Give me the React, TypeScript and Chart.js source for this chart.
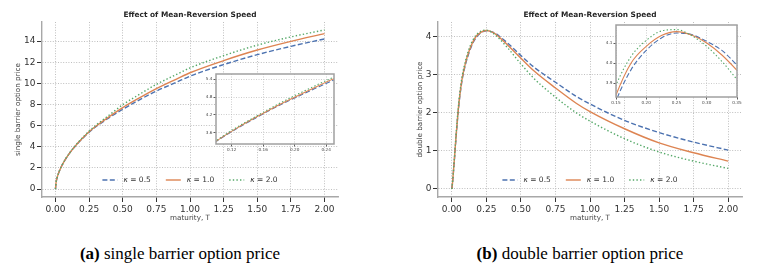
import React, { useEffect, useRef } from "react";
import { Chart, registerables } from "chart.js";

Chart.register(...registerables);

// ---------------- data ----------------
const TITLE = "Effect of Mean-Reversion Speed";
const SERIES_LABELS = ["κ = 0.5", "κ = 1.0", "κ = 2.0"];
const SERIES_COLORS = ["#4c72b0", "#dd8452", "#55a868"];

const T_SINGLE = [0, 0.005, 0.01, 0.02, 0.03, 0.04, 0.05, 0.075, 0.1, 0.125, 0.15, 0.175, 0.2, 0.225, 0.25, 0.3, 0.4, 0.5, 0.6, 0.75, 0.9, 1.0, 1.25, 1.5, 1.75, 2.0];
const SINGLE_K05 = [0, 0.66, 0.96, 1.39, 1.73, 2.02, 2.28, 2.83, 3.30, 3.72, 4.09, 4.45, 4.77, 5.08, 5.38, 5.89, 6.76, 7.55, 8.27, 9.27, 10.11, 10.68, 11.77, 12.71, 13.50, 14.20];
const SINGLE_K10 = [0, 0.66, 0.96, 1.39, 1.73, 2.02, 2.28, 2.83, 3.31, 3.73, 4.11, 4.47, 4.80, 5.12, 5.42, 5.94, 6.85, 7.70, 8.45, 9.50, 10.40, 11.00, 12.15, 13.15, 13.97, 14.70];
const SINGLE_K20 = [0, 0.66, 0.96, 1.39, 1.74, 2.03, 2.29, 2.85, 3.33, 3.76, 4.14, 4.51, 4.85, 5.17, 5.48, 6.03, 7.00, 7.98, 8.77, 9.90, 10.84, 11.46, 12.62, 13.61, 14.39, 15.05];

const T_DOUBLE = [0, 0.005, 0.01, 0.02, 0.03, 0.04, 0.05, 0.06, 0.075, 0.1, 0.125, 0.15, 0.175, 0.2, 0.225, 0.25, 0.275, 0.3, 0.325, 0.35, 0.4, 0.5, 0.6, 0.75, 0.9, 1.0, 1.25, 1.5, 1.75, 2.0];
const DOUBLE_K05 = [0, 0.15, 0.37, 0.83, 1.32, 1.77, 2.17, 2.49, 2.87, 3.28, 3.58, 3.81, 3.967, 4.063, 4.125, 4.150, 4.142, 4.108, 4.063, 3.99, 3.84, 3.50, 3.18, 2.80, 2.43, 2.23, 1.80, 1.48, 1.23, 1.02];
const DOUBLE_K10 = [0, 0.15, 0.38, 0.85, 1.35, 1.80, 2.20, 2.52, 2.90, 3.32, 3.62, 3.84, 4.000, 4.083, 4.137, 4.157, 4.140, 4.100, 4.040, 3.963, 3.79, 3.43, 3.08, 2.65, 2.25, 2.03, 1.58, 1.21, 0.95, 0.73];
const DOUBLE_K20 = [0, 0.16, 0.40, 0.88, 1.39, 1.85, 2.25, 2.58, 2.96, 3.37, 3.68, 3.89, 4.033, 4.113, 4.160, 4.167, 4.137, 4.083, 4.008, 3.917, 3.72, 3.28, 2.88, 2.41, 2.00, 1.78, 1.32, 0.97, 0.73, 0.54];

const MAIN_X_TICKS = [0, 0.25, 0.5, 0.75, 1.0, 1.25, 1.5, 1.75, 2.0];
const SINGLE_Y_TICKS = [0, 2, 4, 6, 8, 10, 12, 14];
const DOUBLE_Y_TICKS = [0, 1, 2, 3, 4];
const SINGLE_INSET_X_TICKS = [0.12, 0.16, 0.2, 0.24];
const SINGLE_INSET_Y_TICKS = [3.6, 4.2, 4.8, 5.4];
const DOUBLE_INSET_X_TICKS = [0.15, 0.2, 0.25, 0.3, 0.35];
const DOUBLE_INSET_Y_TICKS = [3.9, 4.0, 4.1];

// ---------------- helpers ----------------
const FONT = "DejaVu Sans";
const DASHES = [[5, 2.4], [], [1.4, 2.2]];
const ORDERS = [3, 2, 1];

function makeDatasets(t: number[], series: number[][], lw: number) {
  return series.map((vals, i) => ({
    label: SERIES_LABELS[i],
    data: t.map((x, j) => ({ x, y: vals[j] })),
    borderColor: SERIES_COLORS[i],
    backgroundColor: SERIES_COLORS[i],
    borderWidth: lw,
    borderDash: DASHES[i],
    pointRadius: 0,
    fill: false,
    cubicInterpolationMode: "monotone",
    order: ORDERS[i],
  }));
}

const titlePlugin = {
  id: "plotTitle",
  afterDraw(chart: any) {
    if (!chart.options.plugins.plotTitle?.show) return;
    const { ctx, chartArea } = chart;
    ctx.save();
    ctx.font = `bold 7.4px "${FONT}"`;
    ctx.fillStyle = "#262626";
    ctx.textAlign = "center";
    ctx.textBaseline = "middle";
    ctx.fillText(TITLE, (chartArea.left + chartArea.right) / 2, 15);
    ctx.restore();
  },
};

const legendPlugin = {
  id: "kLegend",
  afterDatasetsDraw(chart: any) {
    if (!chart.options.plugins.kLegend?.show) return;
    const { ctx, chartArea } = chart;
    const y = chartArea.bottom - 17;
    const fs = 7.5;
    const handle = 15;
    const gap = 6;
    const spacing = 15;
    ctx.save();
    const items = chart.data.datasets.map((ds: any) => {
      const label: string = ds.label;
      const head = label.slice(0, 1);
      const rest = label.slice(1);
      ctx.font = `italic ${fs}px "${FONT}"`;
      const wh = ctx.measureText(head).width;
      ctx.font = `${fs}px "${FONT}"`;
      const wr = ctx.measureText(rest).width;
      return { ds, head, rest, wh, wr };
    });
    const total = items.reduce((s: number, it: any) => s + handle + gap + it.wh + it.wr, 0) + spacing * (items.length - 1);
    let x = (chartArea.left + chartArea.right) / 2 - total / 2;
    for (const it of items) {
      ctx.beginPath();
      ctx.strokeStyle = it.ds.borderColor;
      ctx.lineWidth = it.ds.borderWidth;
      ctx.setLineDash(it.ds.borderDash || []);
      ctx.moveTo(x, y);
      ctx.lineTo(x + handle, y);
      ctx.stroke();
      ctx.setLineDash([]);
      x += handle + gap;
      ctx.fillStyle = "#333";
      ctx.textBaseline = "middle";
      ctx.textAlign = "left";
      ctx.font = `italic ${fs}px "${FONT}"`;
      ctx.fillText(it.head, x, y);
      x += it.wh;
      ctx.font = `${fs}px "${FONT}"`;
      ctx.fillText(it.rest, x, y);
      x += it.wr + spacing;
    }
    ctx.restore();
  },
};

const insetFramePlugin = {
  id: "insetFrame",
  beforeDraw(chart: any) {
    if (!chart.options.plugins.insetFrame?.show) return;
    const { ctx, chartArea } = chart;
    ctx.save();
    ctx.fillStyle = "#ffffff";
    ctx.fillRect(chartArea.left, chartArea.top, chartArea.right - chartArea.left, chartArea.bottom - chartArea.top);
    ctx.restore();
  },
  afterDraw(chart: any) {
    if (!chart.options.plugins.insetFrame?.show) return;
    const { ctx, chartArea } = chart;
    ctx.save();
    ctx.strokeStyle = "#a0a0a0";
    ctx.lineWidth = 1.5;
    ctx.strokeRect(chartArea.left, chartArea.top, chartArea.right - chartArea.left, chartArea.bottom - chartArea.top);
    ctx.restore();
  },
};

type AxisSpec = {
  min: number;
  max: number;
  ticks: number[];
  decimals: number;
  size: number; // width for y, height for x
  title?: string;
  titlePad?: number;
};

function makeConfig(opts: {
  t: number[];
  series: number[][];
  x: AxisSpec;
  y: AxisSpec;
  padRight: number;
  padTop: number;
  inset: boolean;
}) {
  const { inset } = opts;
  const tickFont = { family: FONT, size: inset ? 4.2 : 9 };
  const tickColor = inset ? "#444" : "#333";
  const grid = {
    color: "#b8b8b8",
    lineWidth: inset ? 0.7 : 0.9,
    drawTicks: true,
    tickLength: inset ? 2.5 : 5,
    tickWidth: inset ? 0.8 : 1,
    tickColor: "#333",
    tickBorderDash: [],
  };
  const border = {
    display: !inset,
    color: "#a8a8a8",
    width: 1.4,
    dash: inset ? [1, 1.5] : [1, 1.6],
  };
  const mkAxis = (spec: AxisSpec, isX: boolean) => ({
    type: "linear",
    min: spec.min,
    max: spec.max,
    afterBuildTicks: (s: any) => {
      s.ticks = spec.ticks.map((v) => ({ value: v }));
    },
    afterFit: (s: any) => {
      if (isX) s.height = spec.size;
      else s.width = spec.size;
    },
    ticks: {
      font: tickFont,
      color: tickColor,
      padding: inset ? 1 : isX ? 2 : 1.5,
      autoSkip: false,
      maxRotation: 0,
      minRotation: 0,
      callback: (v: any) => Number(v).toFixed(spec.decimals),
    },
    grid,
    border,
    title: spec.title
      ? {
          display: true,
          text: spec.title,
          color: "#444",
          font: { family: FONT, size: 7.2 },
          padding: isX ? { top: 0, bottom: spec.titlePad } : { top: spec.titlePad, bottom: 0 },
        }
      : { display: false },
  });

  return {
    type: "line",
    data: { datasets: makeDatasets(opts.t, opts.series, inset ? 1.1 : 1.4) },
    options: {
      animation: false,
      responsive: false,
      maintainAspectRatio: false,
      devicePixelRatio: 1,
      events: [],
      layout: { padding: { left: 0, top: opts.padTop, right: opts.padRight, bottom: 0 } },
      plugins: {
        legend: { display: false },
        tooltip: { enabled: false },
        title: { display: false },
        plotTitle: { show: !inset },
        kLegend: { show: !inset },
        insetFrame: { show: inset },
      },
      scales: {
        x: mkAxis(opts.x, true),
        y: mkAxis(opts.y, false),
      },
    },
    plugins: [titlePlugin, legendPlugin, insetFramePlugin],
  };
}

function ChartBox(props: { left: number; top: number; width: number; height: number; config: any; z: number }) {
  const ref = useRef<HTMLCanvasElement | null>(null);
  useEffect(() => {
    if (!ref.current) return;
    const chart = new Chart(ref.current, props.config);
    return () => chart.destroy();
  }, []);
  return (
    <canvas
      ref={ref}
      width={props.width}
      height={props.height}
      style={{
        position: "absolute",
        left: props.left,
        top: props.top,
        width: props.width,
        height: props.height,
        zIndex: props.z,
      }}
    />
  );
}

const singleMain = makeConfig({
  t: T_SINGLE,
  series: [SINGLE_K05, SINGLE_K10, SINGLE_K20],
  x: { min: -0.1, max: 2.1, ticks: MAIN_X_TICKS, decimals: 2, size: 33, title: "maturity, T", titlePad: 7.7 },
  y: { min: -0.75, max: 15.8, ticks: SINGLE_Y_TICKS, decimals: 0, size: 42, title: "single barrier option price", titlePad: 13.7 },
  padRight: 42,
  padTop: 22,
  inset: false,
});

const singleInset = makeConfig({
  t: T_SINGLE,
  series: [SINGLE_K05, SINGLE_K10, SINGLE_K20],
  x: { min: 0.1, max: 0.25, ticks: SINGLE_INSET_X_TICKS, decimals: 2, size: 14 },
  y: { min: 3.22, max: 5.58, ticks: SINGLE_INSET_Y_TICKS, decimals: 1, size: 16 },
  padRight: 8,
  padTop: 6,
  inset: true,
});

const doubleMain = makeConfig({
  t: T_DOUBLE,
  series: [DOUBLE_K05, DOUBLE_K10, DOUBLE_K20],
  x: { min: -0.1, max: 2.1, ticks: MAIN_X_TICKS, decimals: 2, size: 33, title: "maturity, T", titlePad: 7.7 },
  y: { min: -0.21, max: 4.38, ticks: DOUBLE_Y_TICKS, decimals: 0, size: 58, title: "double barrier option price", titlePad: 35.7 },
  padRight: 17,
  padTop: 22,
  inset: false,
});

const doubleInset = makeConfig({
  t: T_DOUBLE,
  series: [DOUBLE_K05, DOUBLE_K10, DOUBLE_K20],
  x: { min: 0.15, max: 0.35, ticks: DOUBLE_INSET_X_TICKS, decimals: 2, size: 18 },
  y: { min: 3.83, max: 4.19, ticks: DOUBLE_INSET_Y_TICKS, decimals: 1, size: 21 },
  padRight: 10,
  padTop: 6,
  inset: true,
});

const captionStyle: React.CSSProperties = {
  position: "absolute",
  top: 243.5,
  width: 360,
  textAlign: "center",
  fontFamily: '"Liberation Serif", serif',
  fontSize: 17,
  lineHeight: "20px",
  color: "#000",
  whiteSpace: "nowrap",
};

export default function App() {
  return (
    <div
      style={{
        position: "fixed",
        left: 0,
        top: 0,
        width: 759,
        height: 268,
        background: "#fff",
        overflow: "hidden",
      }}
    >
      <ChartBox left={0} top={0} width={380} height={230} config={singleMain} z={1} />
      <ChartBox left={200} top={68} width={142} height={90} config={singleInset} z={2} />
      <ChartBox left={380} top={0} width={379} height={230} config={doubleMain} z={1} />
      <ChartBox left={595} top={19} width={152} height={96} config={doubleInset} z={2} />
      <div style={{ ...captionStyle, left: 180 - 180 }}>
        <b>(a)</b> single barrier option price
      </div>
      <div style={{ ...captionStyle, left: 580 - 180 }}>
        <b>(b)</b> double barrier option price
      </div>
    </div>
  );
}
